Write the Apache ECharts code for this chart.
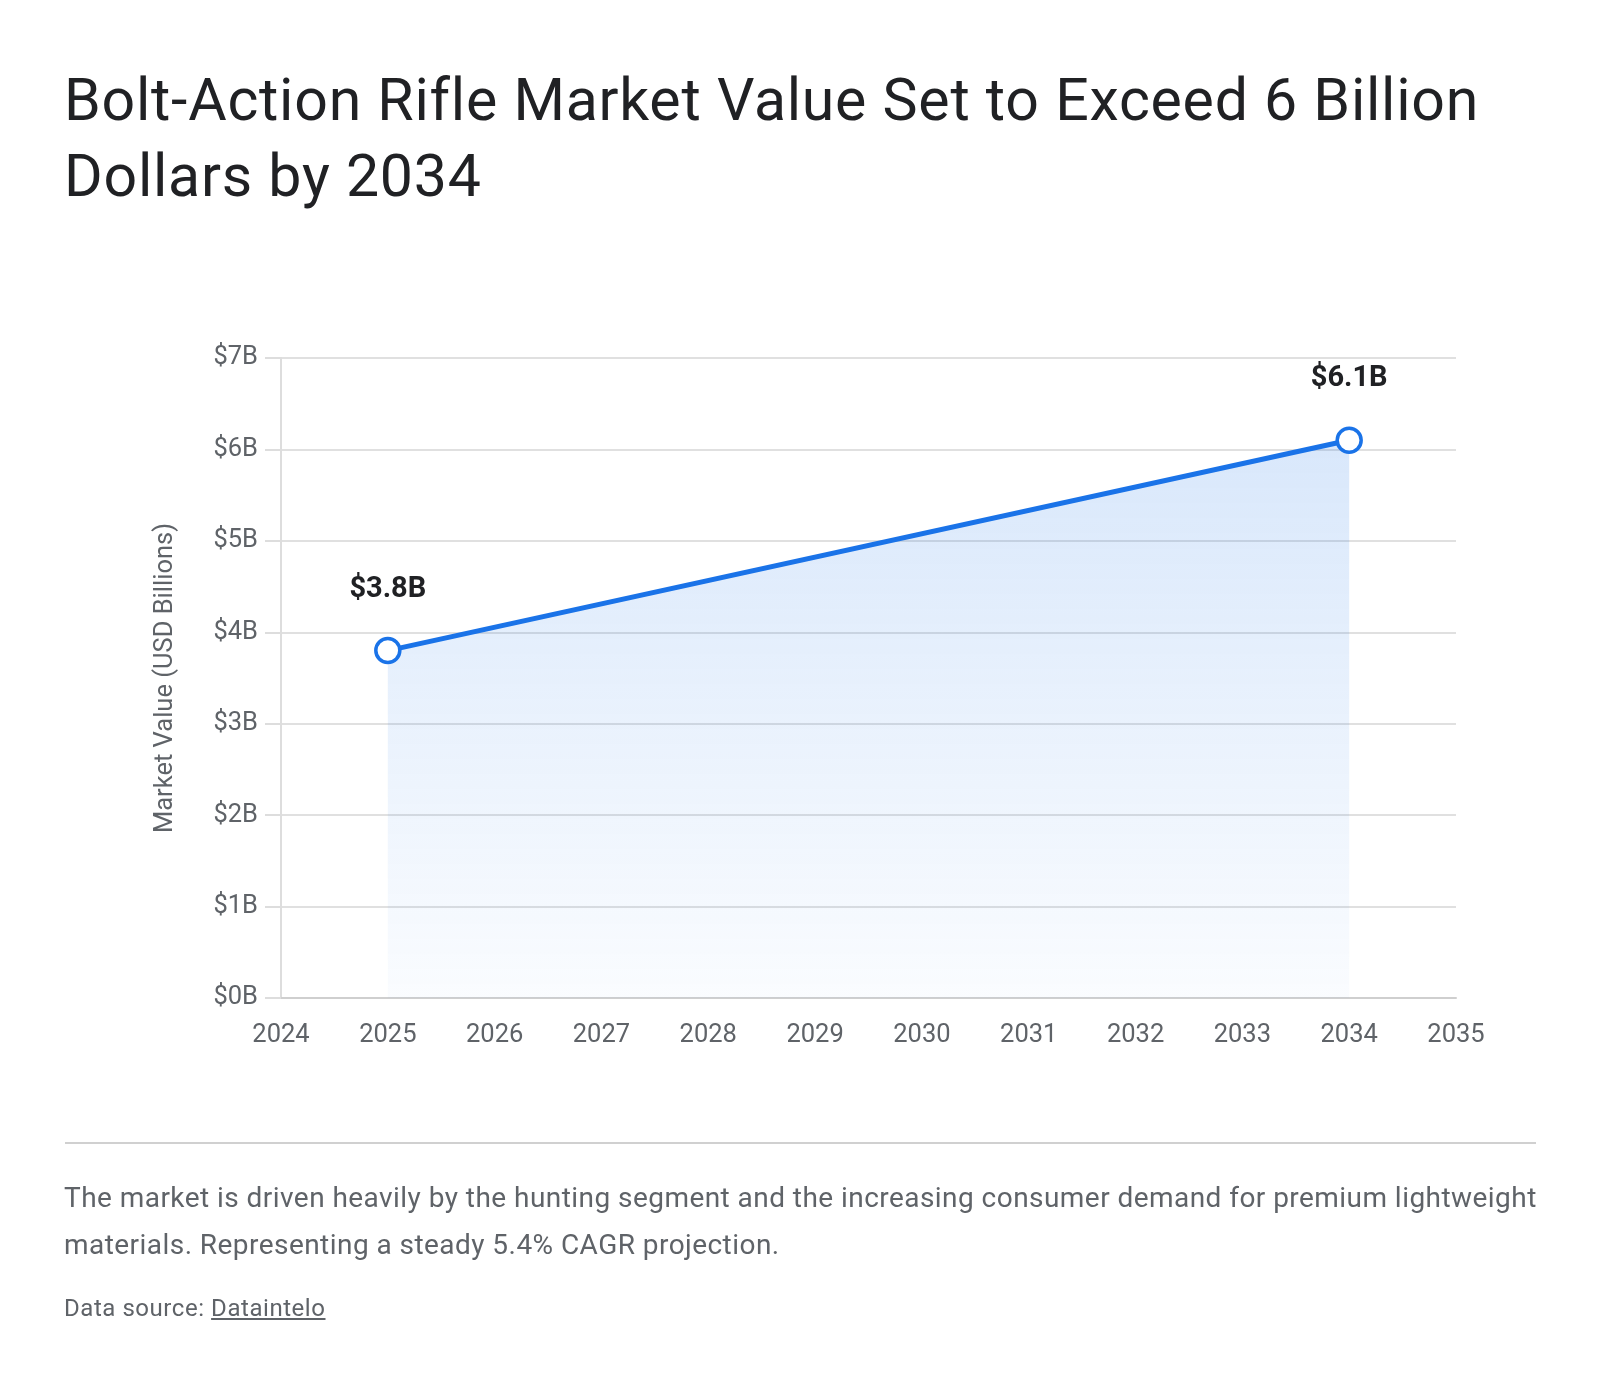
<!DOCTYPE html>
<html>
<head>
<meta charset="utf-8">
<script src="https://cdn.jsdelivr.net/npm/echarts@6/dist/echarts.min.js"></script>
<style>
  html, body { margin: 0; padding: 0; background: #fff; }
  body { width: 1600px; height: 1388px; position: relative; overflow: hidden; font-family: Roboto, "Noto Sans", sans-serif; }
  #chart { position: absolute; left: 0; top: 0; width: 1600px; height: 1388px; }
  .title { position: absolute; left: 64px; top: 62px; font-size: 59px; line-height: 76px; letter-spacing: 0.76px; color: #202124; font-weight: 400; white-space: nowrap; }
  .sep { position: absolute; left: 65px; top: 1142px; width: 1471px; height: 0; border-top: 2px solid #d0d0d0; }
  .desc { position: absolute; left: 64px; top: 1174px; font-size: 28px; line-height: 47px; letter-spacing: 0.45px; color: #5f6368; white-space: nowrap; }
  .src { position: absolute; left: 64px; top: 1293px; font-size: 24px; line-height: 30px; letter-spacing: 0.55px; color: #5f6368; white-space: nowrap; }
  .src a { color: #5f6368; text-decoration: underline; }
</style>
</head>
<body>
<div id="chart"></div>
<div class="title">Bolt-Action Rifle Market Value Set to Exceed 6 Billion<br>Dollars by 2034</div>
<div class="sep"></div>
<div class="desc">The market is driven heavily by the hunting segment and the increasing consumer demand for premium lightweight<br>materials. Representing a steady 5.4% CAGR projection.</div>
<div class="src">Data source: <a>Dataintelo</a></div>
<script>
const years = [2025, 2034];
const values = [3.8, 6.1];
const valueLabels = ['$3.8B', '$6.1B'];
const yTickLabelFmt = v => '$' + v + 'B';

const chart = echarts.init(document.getElementById('chart'), null, { renderer: 'canvas' });
const axisFont = { fontFamily: 'Roboto, "Noto Sans", sans-serif', fontSize: 25.5, color: '#5f6368' };
chart.setOption({
  animation: false,
  grid: { left: 281, right: 144, top: 358, bottom: 390 },
  xAxis: {
    type: 'value', min: 2024, max: 2035, interval: 1,
    axisLine: { show: true, lineStyle: { color: '#cfcfcf', width: 2 } },
    axisTick: { show: false },
    splitLine: { show: false },
    axisLabel: Object.assign({ margin: 25, formatter: v => String(v) }, axisFont)
  },
  yAxis: {
    type: 'value', min: 0, max: 7, interval: 1,
    name: 'Market Value (USD Billions)', nameLocation: 'middle', nameGap: 102,
    nameTextStyle: { fontFamily: 'Roboto, "Noto Sans", sans-serif', fontSize: 25.5, color: '#5f6368' },
    axisLine: { show: true, lineStyle: { color: '#dddddd', width: 2 } },
    axisTick: { show: true, length: 16, lineStyle: { color: '#dddddd', width: 2 } },
    splitLine: { show: true, lineStyle: { color: '#e0e0e0', width: 2 } },
    axisLabel: Object.assign({ margin: 23, formatter: yTickLabelFmt }, axisFont)
  },
  series: [{
    type: 'line',
    data: years.map((y, i) => [y, values[i]]),
    lineStyle: { color: '#1a73e8', width: 5 },
    symbol: 'circle', symbolSize: 24,
    itemStyle: { color: '#ffffff', borderColor: '#1a73e8', borderWidth: 3.5 },
    areaStyle: {
      color: new echarts.graphic.LinearGradient(0, 0, 0, 1, [
        { offset: 0, color: 'rgba(26,115,232,0.24)' },
        { offset: 1, color: 'rgba(26,115,232,0.03)' }
      ])
    },
    label: {
      show: true, position: 'top', distance: 33,
      formatter: p => valueLabels[p.dataIndex],
      fontFamily: 'Roboto, "Noto Sans", sans-serif', fontSize: 29, fontWeight: 'bold', color: '#202124'
    }
  }]
});
</script>
</body>
</html>
